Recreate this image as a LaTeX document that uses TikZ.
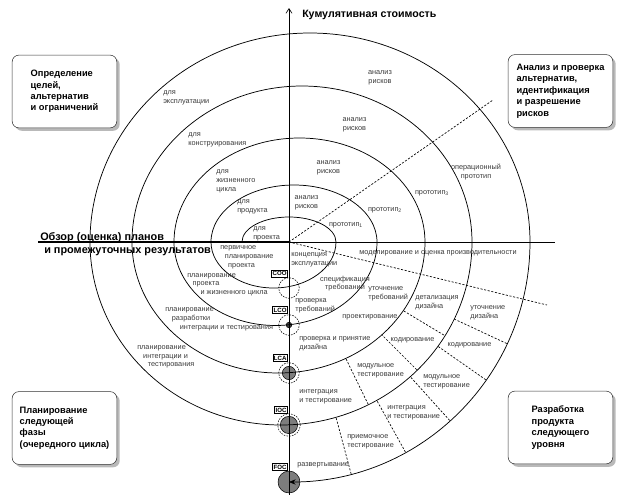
\documentclass[tikz,border=0pt]{standalone}
\usepackage{fontspec}
\setmainfont{Liberation Sans}
\usepackage{xcolor}
\usepackage{tikz}
\usetikzlibrary{arrows.meta, shadows}
\definecolor{disc_grey}{HTML}{7D7D7D}
\definecolor{label_grey}{HTML}{3A3A3A}

\tikzset{
  quadrant/.style = {draw = black!80, rounded corners = 5pt, fill = white,
    drop shadow = {shadow xshift = 2.2pt, shadow yshift = -2.2pt, opacity = 0.55},
    minimum width = 78.75pt, minimum height = 54.75pt, align = left,
    font = \bfseries\fontsize{7}{8.6}\selectfont},
  phase/.style = {font = \fontsize{5.5}{6.6}\selectfont, text = label_grey,
    inner sep = 0pt, align = left},
  msbox/.style = {draw, fill = white, anchor = east, inner xsep = 0.9pt,
    inner ysep = 1pt, font = \bfseries\fontsize{4.6}{5}\selectfont},
  msring/.style = {circle, draw, dash pattern = on 1.2pt off 0.9pt,
    inner sep = 0pt, minimum size = #1},
  msdisc/.style = {circle, draw, fill = disc_grey, inner sep = 0pt, minimum size = #1},
  spiral/.style = {line width = 0.55pt},
  sector/.style = {line width = 0.5pt, dash pattern = on 1.6pt off 1.2pt},
}

\begin{document}
\begin{tikzpicture}[scale = 0.0264583]
      \useasboundingbox (-289,-253) rectangle (329,242);

      \coordinate (origin) at (0,0);
      \coordinate (axis_bottom) at (0,-253);
      \coordinate (axis_top) at (0,234);
      \coordinate (review_start) at (-251,0);
      \coordinate (axis_east) at (266,0);
      \coordinate (risk_end) at (204,142);
      \coordinate (model_end) at (258,-63);

      % quadrant boxes
      \node[quadrant] (goals) at (-224.5,150.5) {Определение\\целей,\\альтернатив\\и ограничений};
      \node[quadrant] (risks) at (271.5,151) {Анализ и проверка\\альтернатив,\\идентификация\\и разрешение\\рисков};
      \node[quadrant] (planning) at (-224.5,-186) {Планирование\\следующей\\фазы\\(очередного цикла)};
      \node[quadrant] (develop) at (271.5,-185.5) {Разработка\\продукта\\следующего\\уровня};

      % milestones
      \node[msring = 15.5pt] (coo) at (0,-46) {};
      \node[msring = 15.5pt] (lco) at (0,-83) {};
      \node[msdisc = 4.2pt, fill = black!75] (lco_dot) at (lco) {};
      \node[msring = 15.5pt] (lca) at (0,-131) {};
      \node[msdisc = 10pt] (lca_disc) at (lca) {};
      \node[msring = 17pt] (ioc) at (0,-183) {};
      \node[msdisc = 13pt] (ioc_disc) at (ioc) {};
      \node[msdisc = 16.5pt] (foc) at (0,-240) {};

      \node[msbox] (coo_box) at (-1,-31.5) {COO};
      \node[msbox] (lco_box) at (-1,-68) {LCO};
      \node[msbox] (lca_box) at (-1,-116) {LCA};
      \node[msbox] (ioc_box) at (-1,-168) {IOC};
      \node[msbox] (foc_box) at (-1,-225) {FOC};

      % axes
      \draw[line width = 0.5pt, -{Straight Barb[length = 3.5pt, width = 4.5pt]}] (axis_bottom) -- (axis_top);
      \draw[line width = 1.6pt] (review_start) -- (origin);
      \draw[line width = 0.5pt] (origin) -- (axis_east);
      \draw[sector] (origin) -- (risk_end);
      \draw[sector] (origin) -- (model_end);

      % spiral
      \draw[spiral] (-47,0) arc[start angle = 180, end angle = 0, x radius = 47, y radius = 25]
            arc[start angle = 0, end angle = -180, x radius = 62.5, y radius = 46]
            arc[start angle = 180, end angle = 0, x radius = 83, y radius = 57]
            arc[start angle = 0, end angle = -180, x radius = 101.5, y radius = 83.5]
            arc[start angle = 180, end angle = 0, x radius = 125.5, y radius = 104]
            arc[start angle = 0, end angle = -180, x radius = 146.5, y radius = 131]
            arc[start angle = 180, end angle = 0, x radius = 170, y radius = 156]
            arc[start angle = 0, end angle = -180, x radius = 191, y radius = 183]
            arc[start angle = 180, end angle = 0, x radius = 220, y radius = 209] coordinate (last_turn);
      \draw[spiral, -{Stealth[length = 5pt, width = 4pt]}] (last_turn)
            arc[start angle = 0, end angle = -90, x radius = 241, y radius = 240];

      % phase borders
      \begin{scope}[even odd rule]
        \clip (-8,0) ellipse [x radius = 191, y radius = 183]
              (-10.5,0) ellipse [x radius = 146.5, y radius = 131];
        \foreach \a in {-31,-45,-64}
          \draw[sector] (origin) -- (\a:260);
      \end{scope}
      \begin{scope}[even odd rule]
        \clip (0,0) ellipse [x radius = 241, y radius = 240]
              (-8,0) ellipse [x radius = 191, y radius = 183];
        \foreach \a in {-25,-35,-48,-61,-75}
          \draw[sector] (origin) -- (\a:300);
      \end{scope}

      % axis labels
      \node[anchor = west, inner sep = 0pt, font = \bfseries\fontsize{8}{9.6}\selectfont] (cost) at (13,227) {Кумулятивная стоимость};
      \node[anchor = base west, inner sep = 0pt, font = \bfseries\fontsize{8.2}{10}\selectfont] (review) at (-249,2) {Обзор (оценка) планов};
      \node[anchor = base west, inner sep = 0pt, font = \bfseries\fontsize{8.2}{10}\selectfont] (review_2) at (-245,-11.3) {и промежуточных результатов};

      % upper left
      \node[phase, anchor = west] (for_use) at (-126,144.5) {для\\эксплуатации};
      \node[phase, anchor = west] (for_design) at (-101,102.5) {для\\конструирования};
      \node[phase, anchor = west] (for_cycle) at (-73,60.5) {для\\жизненного\\цикла};
      \node[phase, anchor = west] (for_product) at (-52,35) {для\\продукта};
      \node[phase, anchor = west] (for_project) at (-36,8.5) {для\\проекта};

      % upper right
      \node[phase, align = center] (risk_4) at (91,164.5) {анализ\\рисков};
      \node[phase, align = center] (risk_3) at (65.5,117) {анализ\\рисков};
      \node[phase, align = center] (risk_2) at (39.5,74.5) {анализ\\рисков};
      \node[phase, align = center] (risk_1) at (17.5,39) {анализ\\рисков};
      \node[phase] (proto_1) at (57,17) {прототип\textsubscript{1}};
      \node[phase] (proto_2) at (96,32) {прототип\textsubscript{2}};
      \node[phase] (proto_3) at (143,49) {прототип\textsubscript{3}};
      \node[phase, align = center] (proto_op) at (187,70) {операционный\\прототип};

      % lower left
      \node[phase, anchor = west] (plan_1) at (-69,-15.3) {первичное\\\hspace*{3.5pt}планирование\\\hspace*{6pt}проекта};
      \node[phase, anchor = west] (plan_2) at (-102,-42.7) {планирование\\\hspace*{4pt}проекта\\\hspace*{10pt}и жизненного цикла};
      \node[phase, anchor = west] (plan_3) at (-124,-77.5) {планирование\\\hspace*{5pt}разработки\\\hspace*{11pt}интеграции и тестирования};
      \node[phase, anchor = west] (plan_4) at (-152,-115) {планирование\\\hspace*{4.5pt}интеграции и\\\hspace*{8pt}тестирования};

      % lower right
      \node[phase, anchor = west] (concept) at (2,-18) {концепция\\эксплуатации};
      \node[phase, align = center] (req_spec) at (56,-41.5) {спецификация\\требований};
      \node[phase, anchor = west] (req_check) at (6,-64) {проверка\\требований};
      \node[phase, anchor = west] (req_refine) at (79,-51.5) {уточнение\\требований};
      \node[phase] (design) at (81,-75) {проектирование};
      \node[phase, anchor = west] (design_check) at (10,-101.5) {проверка и принятие\\дизайна};
      \node[phase, anchor = west] (detail) at (126,-60.5) {детализация\\дизайна};
      \node[phase] (code_1) at (123.5,-98) {кодирование};
      \node[phase, anchor = west] (unit_1) at (68,-129) {модульное\\тестирование};
      \node[phase, anchor = west] (integ_1) at (10,-154.5) {интеграция\\и тестирование};
      \node[phase, anchor = west] (refine) at (181,-71) {уточнение\\дизайна};
      \node[phase] (code_2) at (180.5,-103) {кодирование};
      \node[phase, anchor = west] (unit_2) at (134,-139.5) {модульное\\тестирование};
      \node[phase, anchor = west] (integ_2) at (98,-171) {интеграция\\и тестирование};
      \node[phase, anchor = west] (accept) at (58,-199.5) {приемочное\\тестирование};
      \node[phase, anchor = west] (deploy) at (8,-223) {развертывание};
      \node[phase] (model) at (149,-11) {моделирование и оценка производительности};
\end{tikzpicture}
\end{document}
